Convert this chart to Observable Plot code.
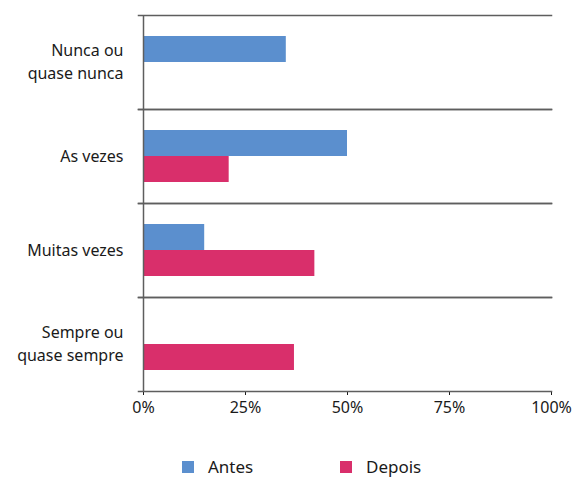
<!DOCTYPE html>
<html><head><meta charset="utf-8">
<script src="https://cdn.jsdelivr.net/npm/d3@7"></script>
<script src="https://cdn.jsdelivr.net/npm/@observablehq/plot@0.6"></script>
<style>
body{margin:0;background:#fff;font-family:"Noto Sans",sans-serif;color:#1a1a1a;}
#chart svg{display:block;}
#legend{position:relative;height:55px;}
.item{position:absolute;top:28px;display:flex;align-items:center;font-size:17px;line-height:18px;}
.sw{width:12px;height:12px;margin-right:14px;}
</style></head><body><div id="chart"></div><div id="legend"></div><script>
const categories = ["Nunca ou quase nunca","As vezes","Muitas vezes","Sempre ou quase sempre"];
const categoryLabels = ["Nunca ou\nquase nunca","As vezes","Muitas vezes","Sempre ou\nquase sempre"];
const series = ["Antes","Depois"];
const antes = [35,50,15,0];
const depois = [0,21,42,37];
const xTicks = [0,25,50,75,100];
const colors = ["#5b8fce","#d92f6b"];

const data = categories.flatMap((c,i)=>[
  {category:c, series:series[0], value:antes[i]},
  {category:c, series:series[1], value:depois[i]}
]);

const lineStyle = {stroke:"#5e5e5e", strokeWidth:1.5};
const plot = Plot.plot({
  width:577, height:430,
  marginTop:13, marginBottom:38, marginLeft:143, marginRight:26,
  style:{fontFamily:"Noto Sans", fontSize:"16px", color:"#1a1a1a", background:"#fff"},
  x:{domain:[0,100], ticks:xTicks, tickFormat:d=>d+"%", label:null, tickSize:4, tickPadding:6},
  y:{domain:series, paddingInner:0, paddingOuter:0.75, axis:null},
  fy:{domain:categories, padding:0, axis:null},
  color:{domain:series, range:colors},
  marks:[
    Plot.barX(data, {x:"value", y:"series", fy:"category", fill:"series"}),
    Plot.frame({anchor:"top", ...lineStyle, insetLeft:-5}),
    Plot.frame({anchor:"bottom", ...lineStyle, insetLeft:-5}),
    Plot.ruleX([0], lineStyle),
    Plot.text(categories, {fy:d=>d, text:d=>categoryLabels[categories.indexOf(d)], frameAnchor:"left", textAnchor:"end", dx:-20, dy:-2, lineHeight:1.4, fontSize:16, fill:"#1a1a1a"})
  ]
});
document.getElementById("chart").appendChild(plot);

const legend = document.getElementById("legend");
const lefts = [182, 340];
series.forEach((s,i)=>{
  const it = document.createElement("div");
  it.className = "item";
  it.style.left = lefts[i]+"px";
  it.innerHTML = `<span class="sw" style="background:${colors[i]}"></span><span>${s}</span>`;
  legend.appendChild(it);
});
</script></body></html>
